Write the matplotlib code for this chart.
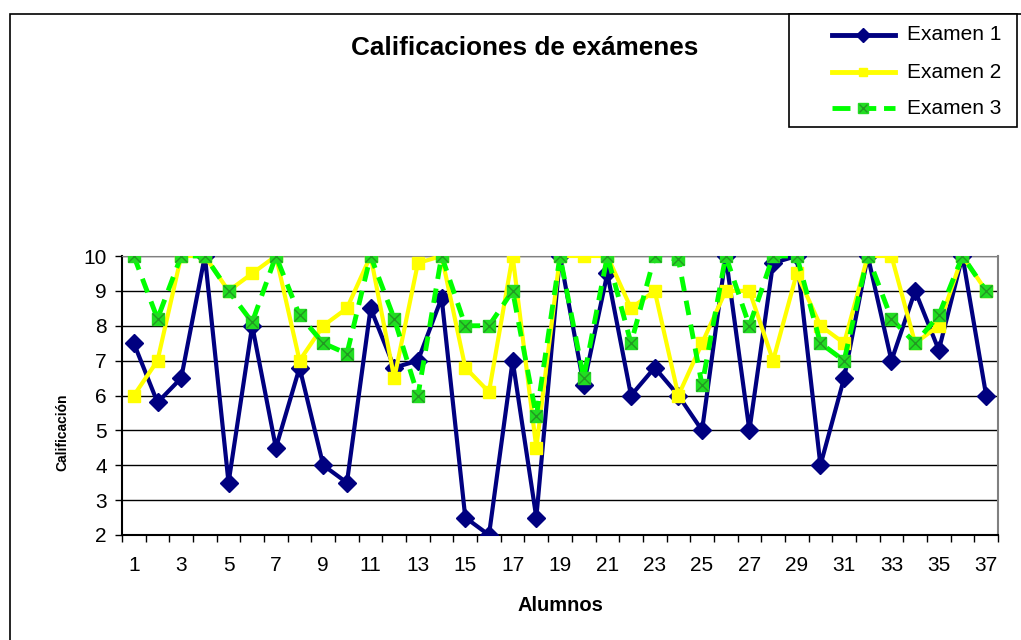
import matplotlib
matplotlib.use("Agg")
import matplotlib.pyplot as plt
from matplotlib.patches import Rectangle
from matplotlib.lines import Line2D

plt.rcParams['font.family'] = ['Liberation Sans', 'DejaVu Sans']

alumnos = list(range(1, 38))
examen1 = [7.5, 5.8, 6.5, 10, 3.5, 8.0, 4.5, 6.8, 4.0, 3.5, 8.5, 6.8, 7.0, 8.8, 2.5, 2.0, 7.0, 2.5, 10,
           6.3, 9.5, 6.0, 6.8, 6.0, 5.0, 10, 5.0, 9.8, 10, 4.0, 6.5, 10, 7.0, 9.0, 7.3, 10, 6.0]
examen2 = [6.0, 7.0, 10, 10, 9.0, 9.5, 10, 7.0, 8.0, 8.5, 10, 6.5, 9.8, 10, 6.8, 6.1, 10, 4.5, 10,
           10, 10, 8.5, 9.0, 6.0, 7.5, 9.0, 9.0, 7.0, 9.5, 8.0, 7.5, 10, 10, 7.5, 8.0, 10, 9.0]
examen3 = [10, 8.2, 10, 10, 9.0, 8.1, 10, 8.3, 7.5, 7.2, 10, 8.2, 6.0, 10, 8.0, 8.0, 9.0, 5.4, 10,
           6.5, 10, 7.5, 10, 9.9, 6.3, 10, 8.0, 10, 10, 7.5, 7.0, 10, 8.2, 7.5, 8.3, 10, 9.0]
series_names = ["Examen 1", "Examen 2", "Examen 3"]
title = "Calificaciones de exámenes"
xlabel = "Alumnos"
ylabel = "Calificación"

W, H = 1021, 640
fig = plt.figure(figsize=(W / 100, H / 100), dpi=100)
fig.patch.set_facecolor('white')

ax = fig.add_axes([122 / W, 1 - 535 / H, (998 - 122) / W, (535 - 256) / H])

navy = '#000080'
yellow = '#FFFF00'
green = '#00FF00'

l1, = ax.plot(alumnos, examen1, color=navy, lw=3, marker='D', ms=9,
              mfc=navy, mec=navy, zorder=3)
l2, = ax.plot(alumnos, examen2, color=yellow, lw=3, marker='s', ms=8,
              mfc=yellow, mec=yellow, zorder=4)
l3, = ax.plot(alumnos, examen3, color=green, lw=3.5, ls=(0, (3, 2)), marker='s', ms=9,
              mfc='#22DD22', mec='#22DD22', zorder=5)
ax.plot(alumnos, examen3, ls='none', marker='x', ms=8, mec='#229922', mew=1, zorder=6)

ax.set_xlim(0.5, 37.5)
ax.set_ylim(2, 10)
ax.set_yticks(range(2, 11))
ax.yaxis.grid(True, color='black', lw=1)
ax.set_axisbelow(True)

ax.set_xticks(alumnos)
ax.set_xticklabels([str(a) if a % 2 == 1 else '' for a in alumnos])
ax.set_xticks([a + 0.5 for a in range(0, 38)], minor=True)
ax.tick_params(axis='x', which='major', length=0, labelsize=15, pad=15)
ax.tick_params(axis='x', which='minor', length=5, width=1, direction='out')
ax.tick_params(axis='y', length=5, width=1, labelsize=15, pad=6)

for s in ['left', 'bottom']:
    ax.spines[s].set_color('black')
    ax.spines[s].set_linewidth(1.5)
ax.spines['right'].set_color('#808080')
ax.spines['right'].set_linewidth(1.5)
ax.spines['top'].set_color('#808080')

ax.set_xlabel(xlabel, fontsize=14.5, fontweight='bold', labelpad=15)
fig.text(62 / W, 1 - 432 / H, ylabel, rotation=90, fontsize=10, fontweight='bold',
         ha='center', va='center')
fig.text(525 / W, 1 - 48 / H, title, fontsize=18.8, fontweight='bold', ha='center', va='center')

# outer border
fig.add_artist(Rectangle((10 / W, -0.1), 1.2, 1 - 14 / H + 0.1, transform=fig.transFigure,
                         fill=False, ec='black', lw=1.2))

# legend box
fig.add_artist(Rectangle((789 / W, 1 - 127 / H), (1017 - 789) / W, (127 - 14) / H,
                         transform=fig.transFigure, fill=True, fc='white', ec='black', lw=1.2))
rows = [35, 72, 108]
handles = [l1, l2, l3]
for i, (name, y, h) in enumerate(zip(series_names, rows, handles)):
    yy = 1 - y / H
    ln = Line2D([832 / W, 895 / W], [yy, yy], transform=fig.transFigure, color=h.get_color(),
                lw=3.5, ls=h.get_linestyle())
    fig.add_artist(ln)
    mk = Line2D([863 / W], [yy], transform=fig.transFigure, marker=h.get_marker(),
                ms=h.get_markersize() * 0.8, mfc=h.get_markerfacecolor(),
                mec=h.get_markeredgecolor(), ls='none')
    fig.add_artist(mk)
    if i == 2:
        fig.add_artist(Line2D([863 / W], [yy], transform=fig.transFigure, marker='x',
                              ms=6, mec='#229922', mew=1, ls='none'))
    fig.text(907 / W, yy, name, fontsize=15, ha='left', va='center')

fig.savefig('out.png', dpi=100)
